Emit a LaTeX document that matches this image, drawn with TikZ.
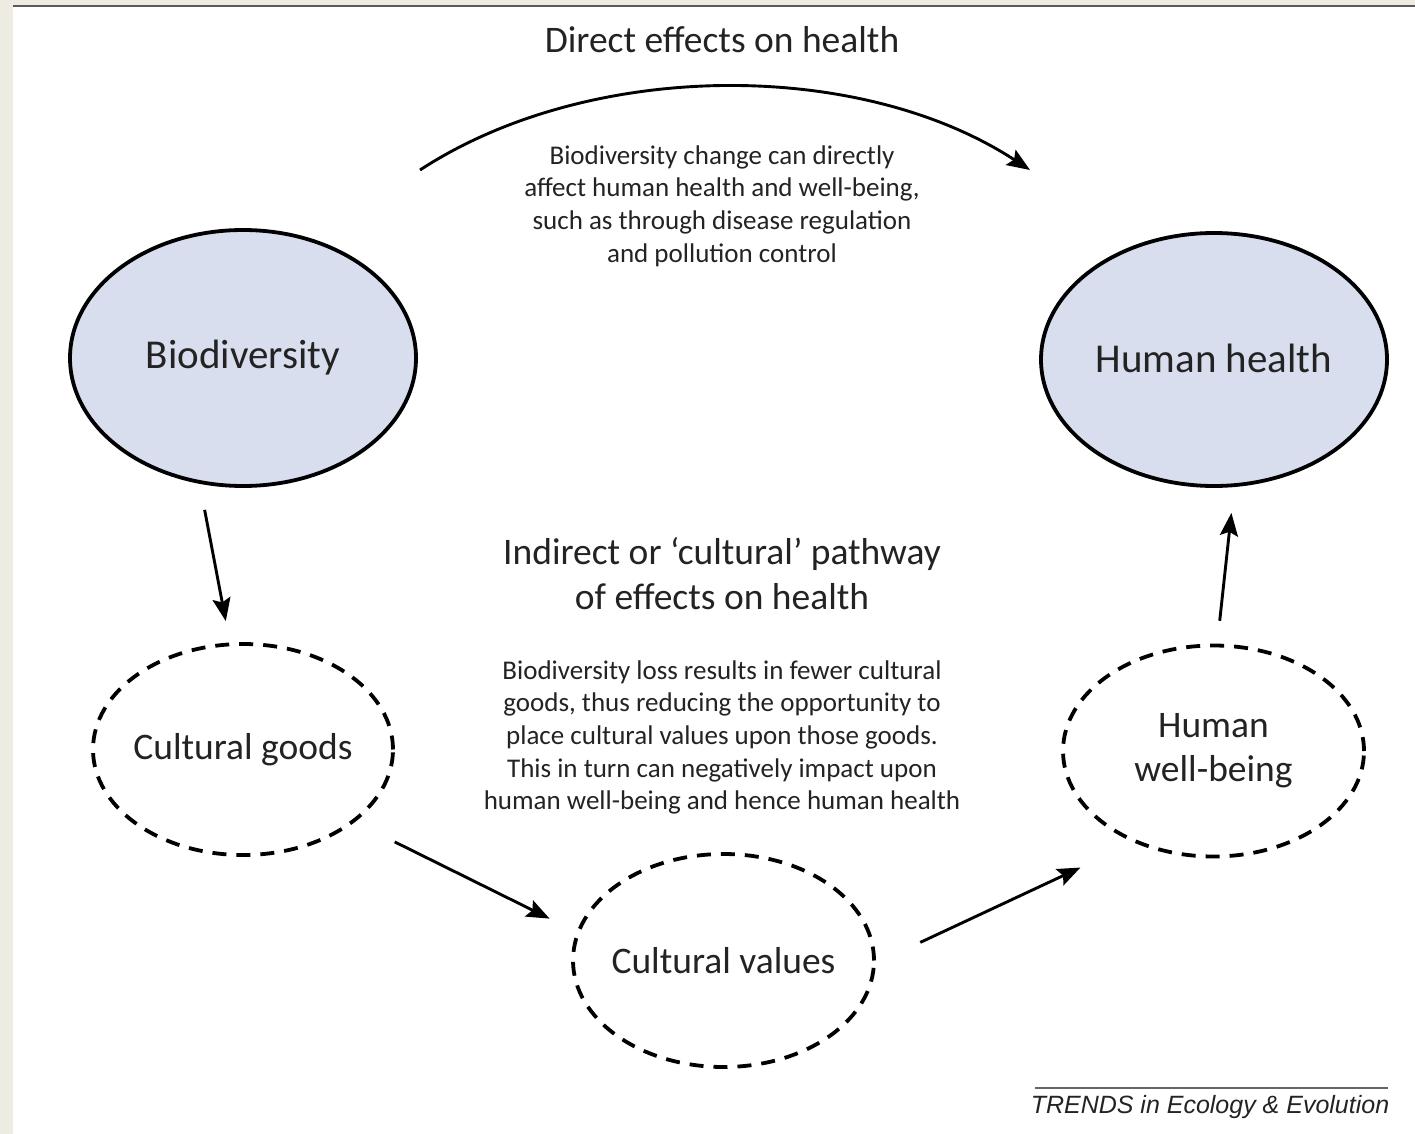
\documentclass[tikz,border=0pt]{standalone}
\usepackage{fontspec}
\setmainfont{Carlito}
\newfontfamily\arialfont{Liberation Sans}
\usetikzlibrary{arrows.meta,shapes.geometric}
\definecolor{beigebg}{RGB}{238,235,227}
\definecolor{ellfill}{RGB}{216,222,238}
\definecolor{txtcol}{RGB}{35,35,35}
\definecolor{topline}{RGB}{90,90,90}
\begin{document}
\begin{tikzpicture}[x=1pt,y=-1pt,
  solidell/.style={ellipse, draw=black, line width=3.8pt, fill=ellfill, inner sep=0pt, text=txtcol, font=\fontsize{41}{49}\selectfont},
  dashell/.style={ellipse, draw=black, line width=3.8pt, dash pattern=on 14pt off 10pt, inner sep=0pt, fill=white, text=txtcol, font=\fontsize{37.5}{44}\selectfont},
  conn/.style={line width=2.9pt, draw=black, -{Stealth[length=23pt,width=18pt,inset=4pt]}},
  titletext/.style={text=txtcol, font=\fontsize{37.5}{45}\selectfont, align=center, inner sep=0pt},
  paratext/.style={text=txtcol, font=\fontsize{27}{32.6}\selectfont, align=center, inner sep=0pt}
]
\useasboundingbox (0,0) rectangle (1415,1134);
% page background and frame
\fill[beigebg] (0,0) rectangle (1415,1134);
\fill[white] (13,7) rectangle (1415,1134);
\draw[topline, line width=2.5pt] (13,5.8) -- (1415,5.8);

% ellipses
\node[solidell, minimum width=346pt, minimum height=256pt] (bio) at (243,358) {\makebox[0pt][c]{Biodiversity}};
\node[solidell, minimum width=346pt, minimum height=253pt] (health) at (1214,359.5) {\makebox[0pt][c]{\raisebox{2pt}{Human health}}};
\node[dashell, minimum width=300pt, minimum height=211pt] (goods) at (243,749.5) {\makebox[0pt][c]{Cultural goods}};
\node[dashell, minimum width=301pt, minimum height=213pt] (values) at (723.5,960.5) {\makebox[0pt][c]{Cultural values}};
\node[dashell, minimum width=301pt, minimum height=211pt, align=center] (wb) at (1213.5,751) {Human\\well-being};

% texts
\node[titletext] (t1) at (722,40) {Direct effects on health};
\node[paratext] (p1) at (722,206) {Biodiversity change can directly\\affect human health and well-being,\\such as through disease regulation\\and pollution control};
\node[titletext] (t2) at (722,574) {Indirect or ‘cultural’ pathway\\of effects on health};
\node[paratext] (p2) at (722,737.5) {Biodiversity loss results in fewer cultural\\goods, thus reducing the opportunity to\\place cultural values upon those goods.\\This in turn can negatively impact upon\\human well-being and hence human health};

% direct effects curve
\coordinate (cs) at (420,170);
\coordinate (ce) at (1030,170);
\draw[conn] (cs) .. controls (590,59) and (860,59) .. (ce);

% pathway arrows
\draw[conn, shorten <=26.5pt, shorten >=21.8pt] (bio.251.1) -- (goods.97);
\draw[conn, shorten <=44.5pt, shorten >=30pt] (goods.-33.6) -- (values.169.8);
\draw[conn, shorten <=49pt, shorten >=59pt] (values.-1.4) -- (wb.229.9);
\draw[conn, shorten <=23pt, shorten >=26pt] (wb.88.3) -- (health.-81.6);

% credit
\node[text=txtcol, font=\arialfont\itshape\fontsize{25}{30}\selectfont, anchor=base, inner sep=0pt] (credit) at (1210,1113) {TRENDS in Ecology \& Evolution};
\draw[gray!80!black, line width=2pt] (1035,1088) -- (1388,1088);
\end{tikzpicture}
\end{document}
